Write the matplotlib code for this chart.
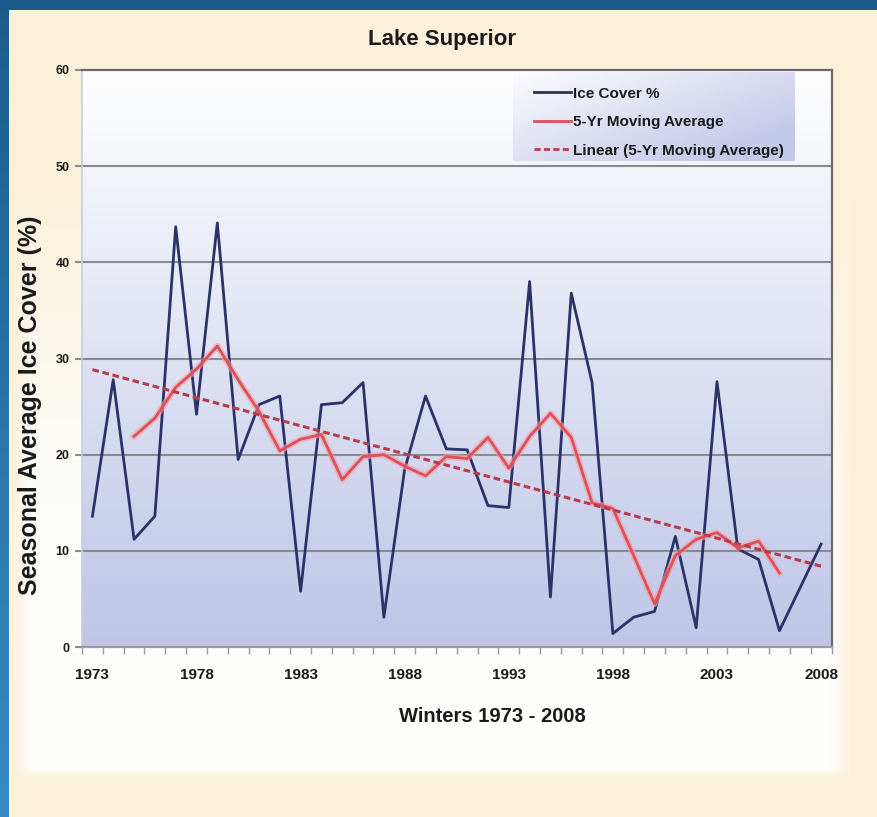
import numpy as np
import matplotlib
matplotlib.use('Agg')
import matplotlib.pyplot as plt
from matplotlib.lines import Line2D

# data
years = list(range(1973, 2009))
ice_cover = [13.6, 27.8, 11.2, 13.6, 43.7, 24.2, 44.1, 19.5, 25.2, 26.1,
             5.8, 25.2, 25.4, 27.5, 3.1, 18.5, 26.1, 20.6, 20.5, 14.7,
             14.5, 38.0, 5.2, 36.8, 27.5, 1.4, 3.1, 3.7, 11.5, 2.0,
             27.6, 10.2, 9.1, 1.7, 6.2, 10.7]
ma_years = list(range(1975, 2007))
moving_avg = [21.9, 23.8, 27.0, 28.9, 31.3, 27.8, 24.5, 20.4, 21.6, 22.1,
              17.4, 19.8, 20.0, 18.8, 17.8, 19.8, 19.6, 21.8, 18.6, 21.9,
              24.3, 21.8, 15.0, 14.4, 9.5, 4.5, 9.5, 11.2, 11.9, 10.3,
              11.0, 7.7]
y_ticks = [0, 10, 20, 30, 40, 50, 60]
x_tick_years = [1973, 1978, 1983, 1988, 1993, 1998, 2003, 2008]
legend_labels = ['Ice Cover %', '5-Yr Moving Average', 'Linear (5-Yr Moving Average)']

fonts = ['Liberation Sans Narrow', 'Liberation Sans', 'DejaVu Sans']
plt.rcParams['font.family'] = fonts
plt.rcParams['font.weight'] = 'bold'

W, H = 877, 817
fig = plt.figure(figsize=(W / 100, H / 100), dpi=100)

# slide background: cream with a white glow, blue strips top and left
bg = np.ones((H, W, 3)) * np.array([251, 242, 220]) / 255
yy, xx = np.mgrid[0:H, 0:W]
wx = np.clip((xx - 12) / 20, 0, 1) * np.clip((850 - xx) / 20, 0, 1)
wy = np.clip((yy - 200) / 300, 0, 1) * np.clip((776 - yy) / 8, 0, 1)
w = (wx * wy)[..., None]
bg = bg * (1 - w) + np.array([253, 253, 251]) / 255 * w
t = (yy / H)[..., None]
blue = np.array([28, 92, 140]) / 255 * (1 - t) + np.array([55, 140, 196]) / 255 * t
bg = np.where((xx < 9)[..., None], blue, bg)
bg[:10, :, :] = np.array([27, 90, 138]) / 255
bax = fig.add_axes([0, 0, 1, 1], zorder=-10)
bax.imshow(bg, aspect='auto', extent=(0, 1, 0, 1))
bax.axis('off')

ax = fig.add_axes([82 / W, 1 - 647 / H, 749.5 / W, 577 / H])

# plot area gradient
grad = np.linspace(0, 1, 256)[:, None, None]
area = np.array([255, 255, 255]) / 255 * (1 - grad) + np.array([190, 197, 230]) / 255 * grad
area = np.repeat(area, 2, axis=1)
ax.imshow(area, extent=(0, 1, 0, 1), transform=ax.transAxes,
          aspect='auto', zorder=0)

# legend gradient box
lg = np.linspace(0, 1, 64)
lgx, lgy = np.meshgrid(lg, lg)
lw_ = np.clip(0.65 * lgx + 0.55 * lgy, 0, 1)[..., None]
leg_img = np.array([252, 252, 254]) / 255 * (1 - lw_) + np.array([196, 201, 232]) / 255 * lw_
ax.imshow(leg_img, extent=(0.575, 0.951, 0.842, 0.996), transform=ax.transAxes,
          aspect='auto', zorder=1)

for v in y_ticks[1:-1]:
    ax.axhline(v, color='#8a8a8a', lw=1.5, zorder=2)

ice_c = '#2b3268'
red_c = '#e0505a'
trend_c = '#b83c4c'

ax.plot(years, ice_cover, color=ice_c, lw=2.0, zorder=4)
ax.plot(ma_years, moving_avg, color='#f2a0a6', lw=4.5, alpha=0.6, zorder=4.5)
ax.plot(ma_years, moving_avg, color=red_c, lw=2.0, zorder=5)
coef = np.polyfit(ma_years, moving_avg, 1)
trend = np.polyval(coef, years)
ax.plot(years, trend, color=trend_c, lw=2.2, ls=(0, (2.2, 1.2)), zorder=6)

ax.set_xlim(years[0] - 0.5, years[-1] + 0.5)
ax.set_ylim(0, 60)
ax.set_yticks(y_ticks)
ax.set_yticklabels([str(v) for v in y_ticks], fontsize=9, fontweight='bold')
ax.set_xticks(x_tick_years)
ax.set_xticklabels([str(v) for v in x_tick_years], fontsize=11, fontweight='bold')
ax.set_xticks(np.arange(years[0] - 0.5, years[-1] + 1), minor=True)
ax.tick_params(axis='x', which='major', length=0, pad=15, colors='#1a1a1a')
ax.tick_params(axis='x', which='minor', length=5, color='#9a9a9a', width=1)
ax.tick_params(axis='y', length=5, color='#8a8a8a', width=1.5, pad=4,
               labelcolor='#1a1a1a')

for side in ['top', 'right']:
    ax.spines[side].set_color('#6a6a6a')
    ax.spines[side].set_linewidth(1.6)
ax.spines['left'].set_color('#c8cce0')
ax.spines['left'].set_linewidth(1.2)
ax.spines['bottom'].set_color('#9a9aa8')
ax.spines['bottom'].set_linewidth(1.6)

handles = [Line2D([], [], color=ice_c, lw=2),
           Line2D([], [], color=red_c, lw=2),
           Line2D([], [], color=trend_c, lw=2, ls=(0, (2.2, 1.2)))]
leg = ax.legend(handles, legend_labels, loc='upper left',
                bbox_to_anchor=(0.585, 0.995), frameon=False,
                prop={'family': fonts, 'weight': 'bold', 'size': 11},
                handlelength=2.4, handletextpad=0.15, labelspacing=0.95)
for txt in leg.get_texts():
    txt.set_color('#1a1a1a')
leg.set_zorder(7)

fig.text(0.5045, 1 - 40 / H, 'Lake Superior', ha='center', va='center',
         fontsize=16, fontweight='bold', color='#1a1a1a')
fig.text(0.5618, 1 - 716 / H, 'Winters 1973 - 2008', ha='center', va='center',
         fontsize=14.5, fontweight='bold', color='#1a1a1a')
fig.text(30 / W, 1 - 405 / H, 'Seasonal Average Ice Cover (%)', ha='center',
         va='center', rotation=90, fontsize=18, fontweight='bold',
         color='#1a1a1a', family=['Liberation Sans', 'DejaVu Sans'])

fig.savefig('out.png', dpi=100)
